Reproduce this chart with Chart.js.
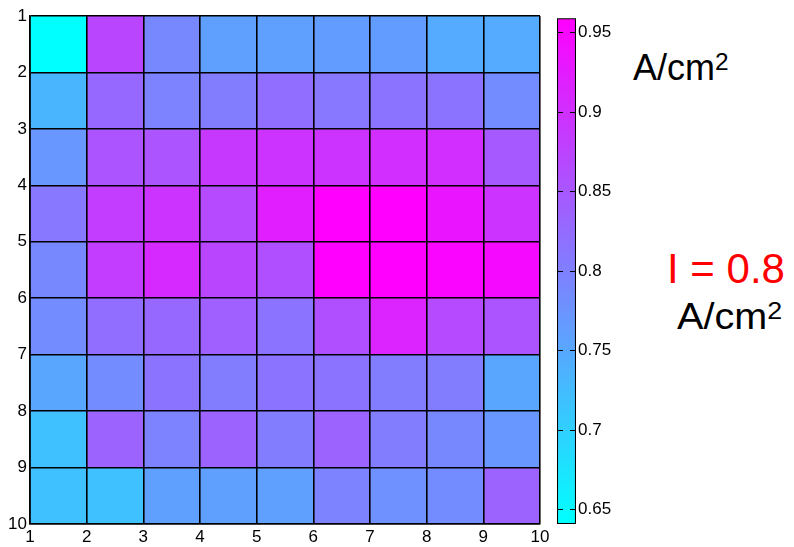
<!DOCTYPE html>
<html>
<head>
<meta charset="utf-8">
<script src="https://cdn.jsdelivr.net/npm/chart.js@4"></script>
<style>
  body { margin: 0; background: #fff; width: 794px; height: 547px; position: relative; overflow: hidden;
         font-family: 'Liberation Sans', Arial, sans-serif; }
  #mapBox { position: absolute; left: 0; top: 0; width: 560px; height: 547px; }
  #barBox { position: absolute; left: 540px; top: 0; width: 90px; height: 547px; }
  .lbl { position: absolute; white-space: nowrap; color: #000; line-height: 1; }
  .lbl sup { font-size: 0.68em; vertical-align: 0.42em; line-height: 0; }
</style>
</head>
<body>
<div id="mapBox"><canvas id="mapChart"></canvas></div>
<div id="barBox"><canvas id="barChart"></canvas></div>
<div class="lbl" style="left:633px; top:50px; font-size:36px;">A/cm<sup>2</sup></div>
<div class="lbl" style="left:667px; top:248px; font-size:42px; color:#ff0000;">I = 0.8</div>
<div class="lbl" style="left:677px; top:299px; font-size:36px; transform:scaleX(1.1); transform-origin:left top;">A/cm<sup>2</sup></div>

<script>
// grid edges (rows and columns share the same ticks)
const axisTicks = [1, 2, 3, 4, 5, 6, 7, 8, 9, 10];

// current density per cell, A/cm2 (top row first, left column first)
const row1 = [0.641, 0.873, 0.790, 0.759, 0.759, 0.765, 0.765, 0.746, 0.746];
const row2 = [0.733, 0.829, 0.797, 0.803, 0.822, 0.810, 0.816, 0.816, 0.784];
const row3 = [0.771, 0.854, 0.854, 0.889, 0.895, 0.895, 0.902, 0.902, 0.848];
const row4 = [0.810, 0.883, 0.895, 0.867, 0.921, 0.959, 0.959, 0.934, 0.895];
const row5 = [0.790, 0.883, 0.908, 0.873, 0.860, 0.959, 0.959, 0.953, 0.946];
const row6 = [0.784, 0.822, 0.829, 0.841, 0.816, 0.860, 0.914, 0.867, 0.854];
const row7 = [0.752, 0.784, 0.816, 0.803, 0.816, 0.816, 0.803, 0.803, 0.752];
const row8 = [0.720, 0.835, 0.797, 0.835, 0.803, 0.835, 0.803, 0.790, 0.771];
const row9 = [0.720, 0.720, 0.759, 0.759, 0.759, 0.797, 0.778, 0.784, 0.835];
const rows = [row1, row2, row3, row4, row5, row6, row7, row8, row9];

// colour scale
const colorMin = 0.641;
const colorMax = 0.959;
const colorbarTicks = [0.65, 0.7, 0.75, 0.8, 0.85, 0.9, 0.95];

const tickFont = { family: "'Liberation Sans', Arial, sans-serif", size: 17 };

// MATLAB "cool" colormap: cyan -> magenta
function coolColor(v) {
  let t = (v - colorMin) / (colorMax - colorMin);
  t = Math.max(0, Math.min(1, t));
  return `rgb(${Math.round(255 * t)}, ${Math.round(255 * (1 - t))}, 255)`;
}

function useTicks(list) {
  return scale => { scale.ticks = list.map(v => ({ value: v })); };
}

// ===== heat map (floating bars, one dataset per row) =====
const mapChart = new Chart(document.getElementById('mapChart'), {
  type: 'bar',
  data: {
    datasets: rows.map((vals, i) => ({
      label: 'row ' + axisTicks[i],
      data: vals.map((v, j) => ({
        x: (axisTicks[j] + axisTicks[j + 1]) / 2,
        y: [axisTicks[i], axisTicks[i + 1]]
      })),
      backgroundColor: vals.map(coolColor),
      borderWidth: 0,
      grouped: false,
      barPercentage: 1,
      categoryPercentage: 1
    }))
  },
  options: {
    responsive: true,
    maintainAspectRatio: false,
    animation: false,
    layout: { padding: { left: 0, top: 16, right: 20, bottom: 0 } },
    plugins: { legend: { display: false }, tooltip: { enabled: false } },
    scales: {
      x: {
        type: 'linear',
        min: 1, max: 10,
        offset: false,
        grid: { color: '#000', lineWidth: 1.6, offset: false, drawTicks: false, z: 1 },
        border: { color: '#000', width: 1.6, z: 1 },
        ticks: { color: '#000', font: tickFont, padding: 3, maxRotation: 0, autoSkip: false },
        afterBuildTicks: useTicks(axisTicks),
        afterFit: s => { s.height = 23; }
      },
      y: {
        type: 'linear',
        reverse: true,
        min: 1, max: 10,
        grid: { color: '#000', lineWidth: 1.6, drawTicks: false, z: 1 },
        border: { color: '#000', width: 1.6, z: 1 },
        ticks: { color: '#000', font: tickFont, padding: 3, autoSkip: false },
        afterBuildTicks: useTicks(axisTicks),
        afterFit: s => { s.width = 30; }
      }
    }
  }
});

// ===== colour bar =====
const barChart = new Chart(document.getElementById('barChart'), {
  type: 'bar',
  data: {
    labels: ['A/cm2'],
    datasets: [{
      data: [[colorMin, colorMax]],
      backgroundColor: ctx => {
        const c = ctx.chart;
        if (!c.chartArea) return 'transparent';
        const ys = c.scales.y;
        const g = c.ctx.createLinearGradient(0, ys.getPixelForValue(colorMin), 0, ys.getPixelForValue(colorMax));
        g.addColorStop(0, coolColor(colorMin));
        g.addColorStop(1, coolColor(colorMax));
        return g;
      },
      borderColor: '#000',
      borderWidth: 1.4,
      borderSkipped: false,
      barPercentage: 1,
      categoryPercentage: 1
    }]
  },
  options: {
    responsive: true,
    maintainAspectRatio: false,
    animation: false,
    layout: { padding: { left: 17, top: 16, right: 0, bottom: 23 } },
    plugins: { legend: { display: false }, tooltip: { enabled: false } },
    scales: {
      x: { display: false },
      y: {
        position: 'right',
        min: colorMin, max: colorMax,
        grid: { drawOnChartArea: false, color: '#000', tickLength: -6, lineWidth: 1, z: 1 },
        border: { display: false },
        ticks: { color: '#000', font: tickFont, padding: 8, callback: v => String(v) },
        afterBuildTicks: useTicks(colorbarTicks),
        afterFit: s => { s.width = 54; }
      },
      yl: {
        type: 'linear',
        axis: 'y',
        position: 'left',
        min: colorMin, max: colorMax,
        grid: { drawOnChartArea: false, color: '#000', tickLength: -6, lineWidth: 1, z: 1 },
        border: { display: false },
        ticks: { display: false },
        afterBuildTicks: useTicks(colorbarTicks),
        afterFit: s => { s.width = 0; }
      }
    }
  }
});
</script>
</body>
</html>
